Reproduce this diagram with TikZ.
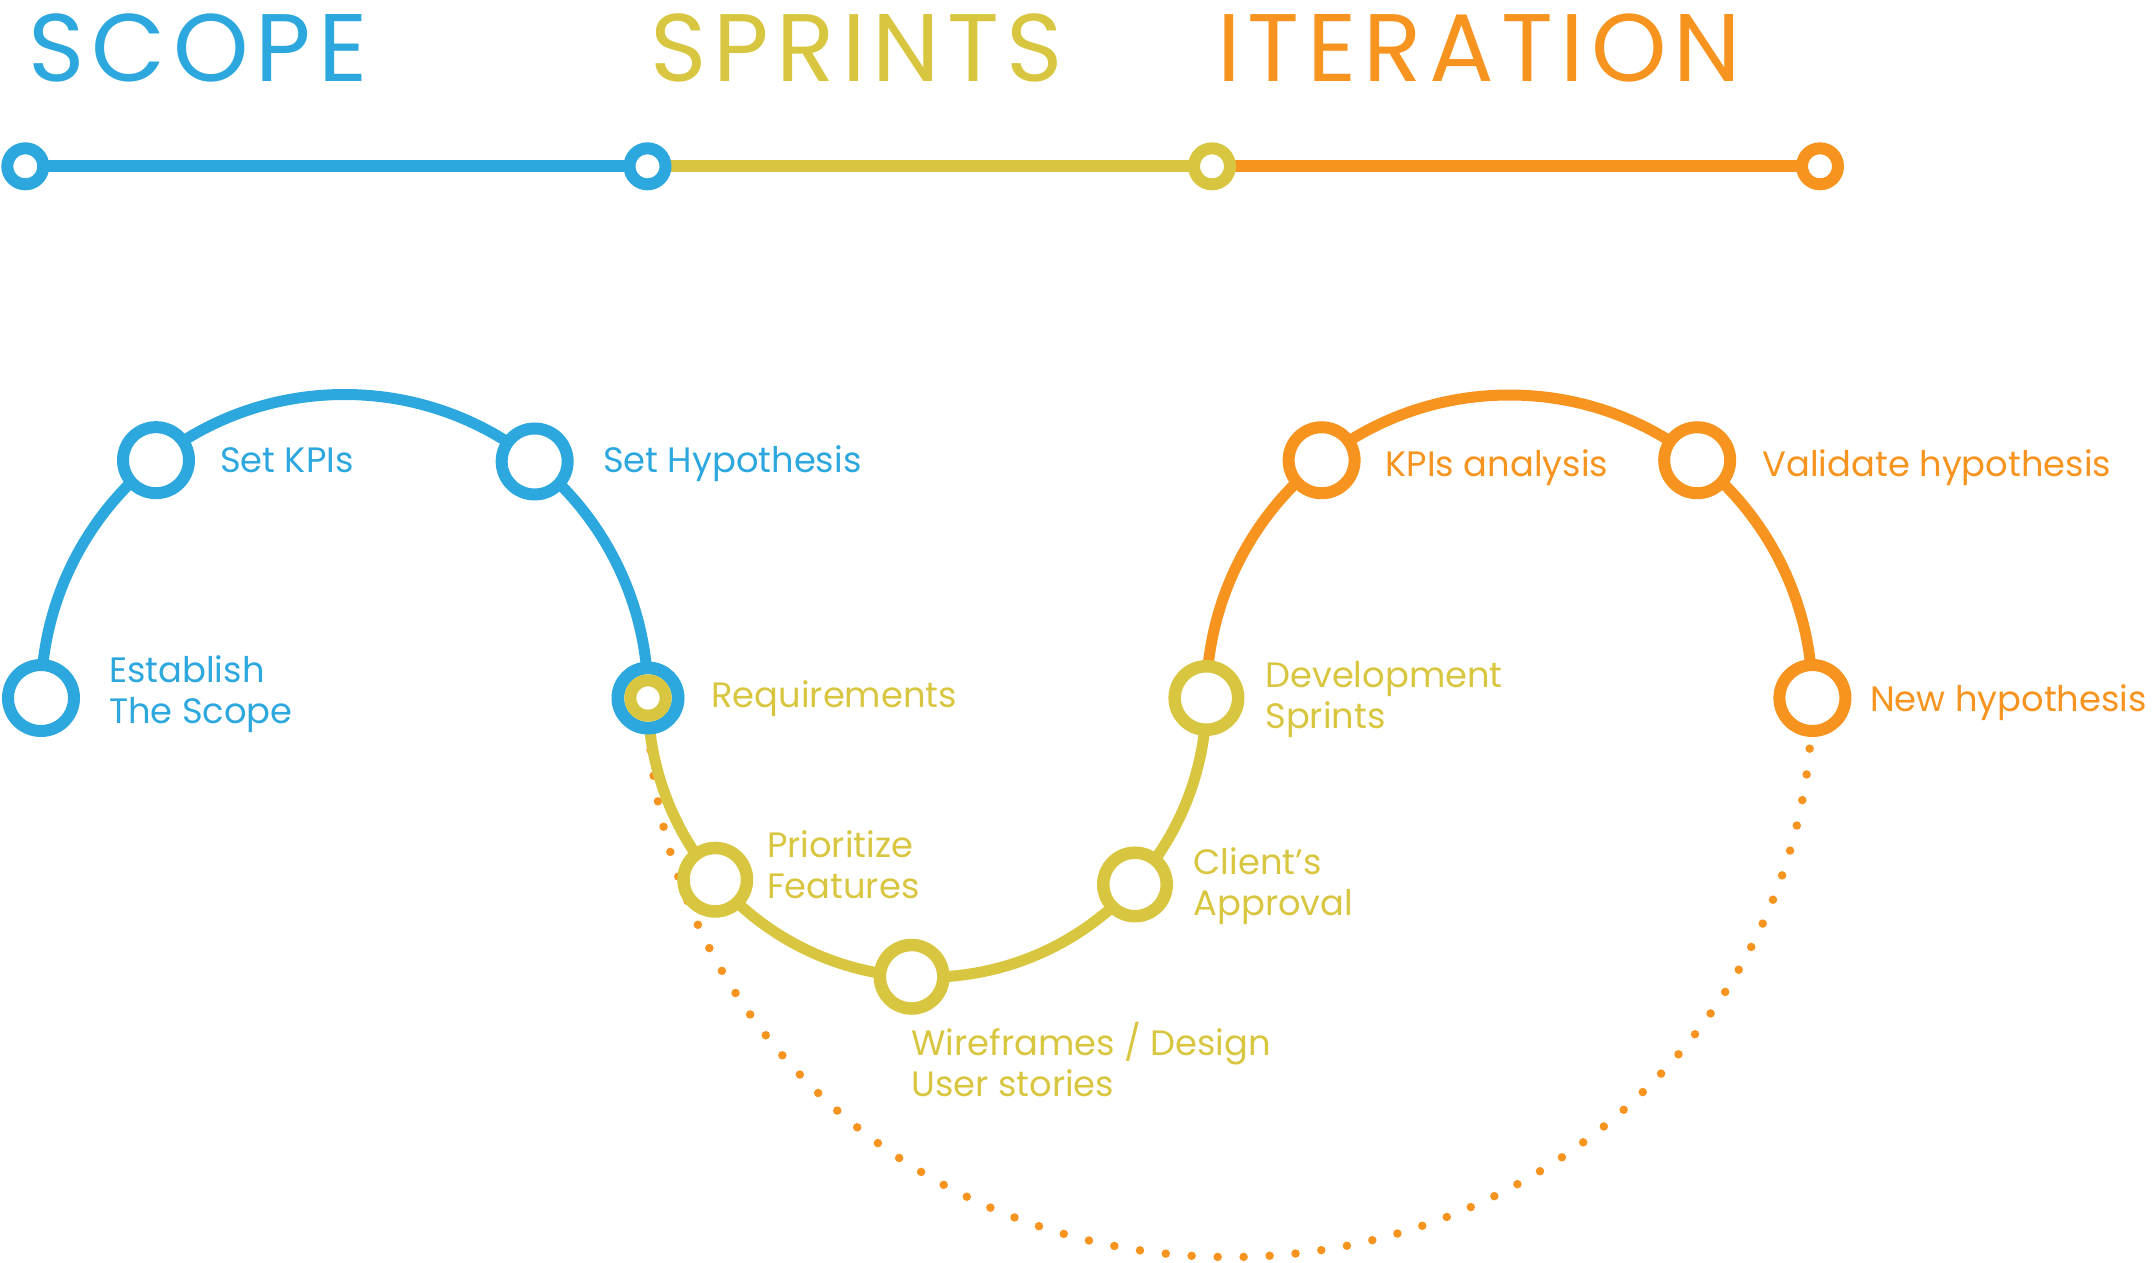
\documentclass[tikz,border=0pt]{standalone}
\usepackage{fontspec}
\setmainfont{Poppins}
\newfontfamily\titlefont[LetterSpace=7.5]{Poppins}
\usetikzlibrary{calc,backgrounds}
\definecolor{cblue}{HTML}{2DA8DE}
\definecolor{cyel}{HTML}{D9C640}
\definecolor{corg}{HTML}{F7941F}
\begin{document}
\begin{tikzpicture}[x=1pt,y=1pt,
  arcline/.style={line width=11pt},
  ring/.style={circle, draw=#1, line width=12pt, fill=white, minimum size=66pt, inner sep=0pt},
  yring/.style={circle, draw=#1, line width=12.5pt, fill=white, minimum size=63.5pt, inner sep=0pt},
  tring/.style={circle, draw=#1, line width=12pt, fill=white, minimum size=36pt, inner sep=0pt},
  lbl/.style={text=#1, anchor=base west, inner sep=0pt, align=left, font=\fontsize{35.3}{41}\selectfont},
  ttl/.style={text=#1, anchor=base west, inner sep=0pt, font=\titlefont\fontsize{96}{100}\selectfont},
  dotline/.style={corg, line width=8.5pt, line cap=round, dash pattern=on 0pt off 26pt},
]
\useasboundingbox (0,-1262) rectangle (2153,0);

% titles
\node[ttl=cblue] (tscope) at (28,-81.7) {SCOPE};
\node[ttl=cyel] (tsprints) at (650,-81.7) {SPRINTS};
\node[ttl=corg] (titer) at (1217,-81.7) {ITERATION};

% timeline
\node[tring=cblue] (t1) at (25.3,-166.3) {};
\node[tring=cblue] (t2) at (647.5,-166.3) {};
\node[tring=cyel] (t3) at (1212,-166.3) {};
\node[tring=corg] (t4) at (1820,-166.3) {};

% arc centres
\coordinate (cB) at (344.5,-698);
\coordinate (cY) at (927.2,-698);
\coordinate (cO) at (1509.4,-698);

% nodes
\node[ring=cblue] (est) at ($(cB)+(180:303.5)$) {};
\node[ring=cblue] (kpi) at ($(cB)+(128.4:303.5)$) {};
\node[ring=cblue] (hyp) at ($(cB)+(51.2:303.5)$) {};
\node[circle, draw=cblue, line width=12.8pt, fill=white, minimum size=60.2pt, inner sep=0pt] (req) at ($(cB)+(0:303.5)$) {};
\node[circle, draw=cyel, line width=12pt, minimum size=35.4pt, inner sep=0pt] (reqin) at (req.center) {};
\node[yring=cyel] (pri) at ($(cY)+(220.6:279.2)$) {};
\node[yring=cyel] (wire) at ($(cY)+(266.8:279.2)$) {};
\node[yring=cyel] (cli) at ($(cY)+(318.1:279.2)$) {};
\node[yring=cyel] (dev) at ($(cY)+(0:279.2)$) {};
\node[ring=corg] (kpa) at ($(cO)+(128.3:303)$) {};
\node[ring=corg] (val) at ($(cO)+(51.7:303)$) {};
\node[ring=corg] (newh) at ($(cO)+(0:303)$) {};

\begin{scope}[on background layer]
  \draw[cblue, line width=12.3pt] (t1.center) -- (t2.center);
  \draw[cyel, line width=12.3pt] (t2.center) -- (t3.center);
  \draw[corg, line width=12.3pt] (t3.center) -- (t4.center);
  \draw[dotline] (req.center) arc[start angle=180, end angle=360, x radius=582, y radius=559];
  \draw[arcline, cblue] (est.center) arc[start angle=180, end angle=0, radius=303.5];
  \draw[arcline, cyel] (req.center) arc[start angle=180, end angle=360, radius=279.2];
  \draw[arcline, corg] (dev.center) arc[start angle=180, end angle=0, radius=303];
\end{scope}

% labels (base = baseline of last line)
\node[lbl=cblue] (lkpi) at (219.9,-472.7) {Set KPIs};
\node[lbl=cblue] (lhyp) at (602.8,-472.7) {Set Hypothesis};
\node[lbl=cblue] (lest) at (109,-723.6) {Establish\\The Scope};
\node[lbl=cyel] (lreq) at (711.2,-707.3) {Requirements};
\node[lbl=cyel] (lpri) at (766.8,-898.2) {Prioritize\\Features};
\node[lbl=cyel] (lcli) at (1193.4,-915.4) {Client’s\\Approval};
\node[lbl=cyel] (lwire) at (911.2,-1096) {Wireframes / Design\\User stories};
\node[lbl=cyel] (ldev) at (1265.2,-728.3) {Development\\Sprints};
\node[lbl=corg] (lkpa) at (1385.4,-476.7) {KPIs analysis};
\node[lbl=corg] (lval) at (1762.3,-476.7) {Validate hypothesis};
\node[lbl=corg] (lnewh) at (1869.8,-711.7) {New hypothesis};
\end{tikzpicture}
\end{document}
